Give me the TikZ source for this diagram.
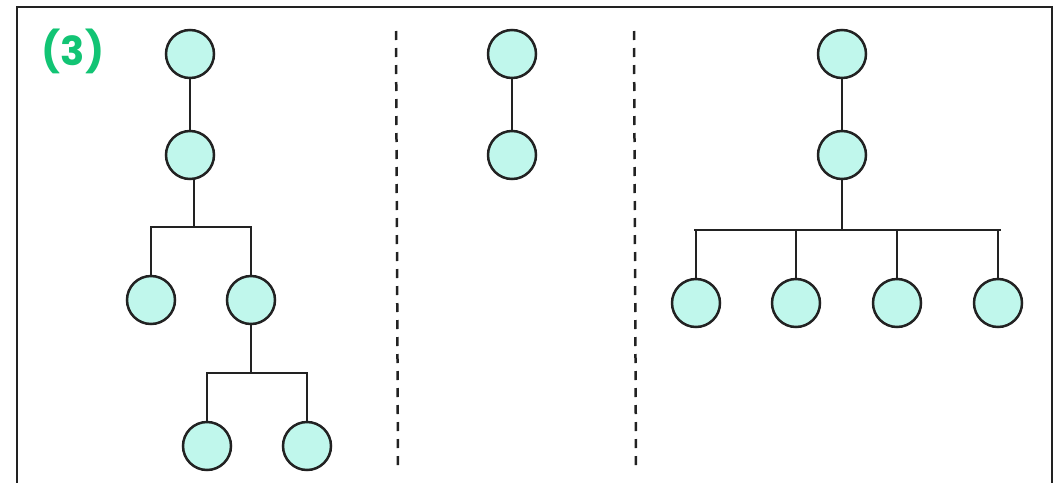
\documentclass[tikz,border=0pt]{standalone}
\usepackage{fontspec}
\newfontfamily\labelfont{Poppins}
\definecolor{nodefill}{HTML}{C0F7EC}
\definecolor{ink}{HTML}{222222}
\definecolor{lblgreen}{HTML}{12C474}
\begin{document}
\begin{tikzpicture}[x=1pt,y=-1pt,
  tn/.style={circle,draw=ink,fill=nodefill,line width=2.5pt,minimum size=48pt,inner sep=0pt},
  edge/.style={draw=ink,line width=2.5pt},
  sep/.style={draw=ink,line width=2.5pt,dash pattern=on 9pt off 8pt}]
\useasboundingbox (0,0) rectangle (1059,482);
\begin{scope}
\clip (0,0) rectangle (1059,482);
\draw[ink,line width=2.5pt] (17,500) -- (17,7) -- (1052,7) -- (1052,500);
\end{scope}
\node[font=\labelfont\bfseries\fontsize{40}{40}\selectfont,text=lblgreen,inner sep=0pt] (lbl) at (73,51) {(3)};
% separators
\coordinate (s1a) at (396,31); \coordinate (s1b) at (398,470);
\coordinate (s2a) at (634,31); \coordinate (s2b) at (636,470);
\draw[sep] (s1a) -- (s1b);
\draw[sep] (s2a) -- (s2b);
% left tree
\node[tn] (a1) at (190,54) {};
\node[tn] (a2) at (190,155) {};
\node[tn] (a3) at (151,300) {};
\node[tn] (a4) at (251,300) {};
\node[tn] (a5) at (207,446) {};
\node[tn] (a6) at (307,446) {};
\draw[edge] (a1) -- (a2);
\coordinate (b1) at (194,227);
\draw[edge] (a2.south -| b1) -- (b1);
\draw[edge,line cap=rect] (a3.north |- b1) -- (a4.north |- b1);
\draw[edge] (a3.north |- b1) -- (a3.north);
\draw[edge] (a4.north |- b1) -- (a4.north);
\coordinate (b2) at (251,373);
\draw[edge] (a4.south) -- (b2);
\draw[edge,line cap=rect] (a5.north |- b2) -- (a6.north |- b2);
\draw[edge] (a5.north |- b2) -- (a5.north);
\draw[edge] (a6.north |- b2) -- (a6.north);
% middle tree
\node[tn] (m1) at (512,54) {};
\node[tn] (m2) at (512,155) {};
\draw[edge] (m1) -- (m2);
% right tree
\node[tn] (r1) at (842,54) {};
\node[tn] (r2) at (842,155) {};
\node[tn] (r3) at (696,303) {};
\node[tn] (r4) at (796,303) {};
\node[tn] (r5) at (897,303) {};
\node[tn] (r6) at (998,303) {};
\draw[edge] (r1) -- (r2);
\coordinate (b3) at (842,230);
\draw[edge] (r2.south) -- (b3);
\draw[edge,line cap=rect] (695,230) -- (1000,230);
\draw[edge] (r3.north) -- (r3.north |- b3);
\draw[edge] (r4.north) -- (r4.north |- b3);
\draw[edge] (r5.north) -- (r5.north |- b3);
\draw[edge] (r6.north) -- (r6.north |- b3);
\end{tikzpicture}
\end{document}
